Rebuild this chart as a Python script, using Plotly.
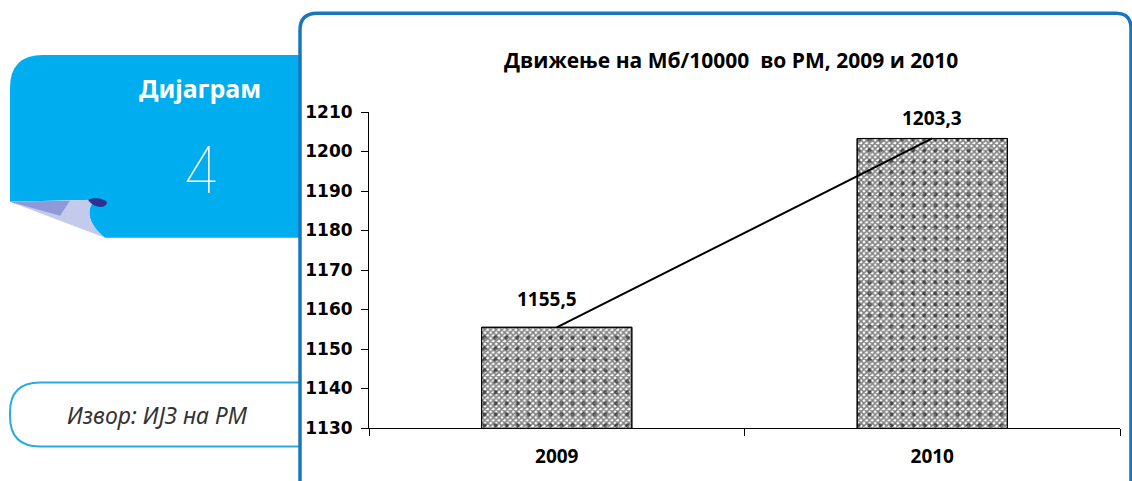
import plotly.graph_objects as go

years = ["2009", "2010"]
values = [1155.5, 1203.3]
value_labels = ["1155,5", "1203,3"]
y_ticks = [1130, 1140, 1150, 1160, 1170, 1180, 1190, 1200, 1210]

title_text = "Движење на Мб/10000  во РМ, 2009 и 2010"
tab_title = "Дијаграм"
tab_number = "4"
source_text = "Извор: ИЈЗ на РМ"

W, H = 1132, 481
L, R, T, B = 369, 1120, 112, 428.5


def px(x, y):
    # pixel -> paper coords
    return (x - L) / (R - L), (B - y) / (B - T)


def path(cmds):
    out = []
    for c in cmds:
        if isinstance(c, str):
            out.append(c)
        else:
            x, y = px(*c)
            out.append(f"{x:.5f},{y:.5f}")
    return " ".join(out)


fig = go.Figure()

# checkerboard base
fig.add_trace(
    go.Bar(
        x=years,
        y=values,
        width=0.4,
        marker={
            "color": "white",
            "line": {"color": "black", "width": 1},
            "pattern": {"shape": "x", "fgcolor": "black", "bgcolor": "white",
                        "size": 4, "solidity": 0.62},
        },
        hoverinfo="skip",
    )
)
# bigger dots on top
fig.add_trace(
    go.Bar(
        x=years,
        y=values,
        width=0.4,
        marker={
            "color": "rgba(0,0,0,0)",
            "line": {"color": "black", "width": 1},
            "pattern": {"shape": ".", "fgcolor": "black", "bgcolor": "rgba(0,0,0,0)",
                        "size": 11, "solidity": 0.12},
        },
        hoverinfo="skip",
    )
)
fig.add_trace(
    go.Scatter(x=years, y=values, mode="lines",
               line={"color": "black", "width": 2}, hoverinfo="skip")
)

for i, (v, lab) in enumerate(zip(values, value_labels)):
    fig.add_annotation(x=i, y=v, text=f"<b>{lab}</b>", showarrow=False,
                       xanchor="center", yanchor="middle",
                       xshift=-10 if i == 0 else 0,
                       yshift=28 if v < 1200 else 20,
                       font={"size": 19, "color": "black"})

shapes = []
# blue tab
shapes.append(dict(
    type="path", xref="paper", yref="paper",
    path=path(["M", (10, 88), "Q", (10, 55), (43, 55), "L", (300, 55), "L", (300, 238),
               "L", (105, 238), "C", (90, 226), (84, 211), (95, 200), "L", (10, 202), "Z"]),
    fillcolor="#00AEEF", line={"width": 0}, layer="below"))
# page curl
shapes.append(dict(
    type="path", xref="paper", yref="paper",
    path=path(["M", (10, 202), "L", (95, 200), "C", (84, 211), (90, 226), (105, 238), "Z"]),
    fillcolor="#C4CAEC", line={"width": 0}, layer="below"))
shapes.append(dict(
    type="path", xref="paper", yref="paper",
    path=path(["M", (10, 202), "L", (70, 201), "L", (60, 216), "Z"]),
    fillcolor="#8F99D8", line={"width": 0}, layer="below"))
shapes.append(dict(
    type="path", xref="paper", yref="paper",
    path=path(["M", (88, 200), "C", (92, 197), (106, 198), (107, 203),
               "C", (106, 209), (94, 209), (88, 200), "Z"]),
    fillcolor="#2E3192", line={"width": 0}, layer="below"))
# chart frame
shapes.append(dict(
    type="path", xref="paper", yref="paper",
    path=path(["M", (300, 484), "L", (300, 30), "Q", (300, 13), (317, 13),
               "L", (1116, 13), "Q", (1131, 13), (1131, 28), "L", (1131, 484)]),
    line={"color": "#1B75BC", "width": 3.5}, layer="above"))
# source box
shapes.append(dict(
    type="path", xref="paper", yref="paper",
    path=path(["M", (300, 383), "L", (40, 383), "Q", (10, 383), (10, 413),
               "L", (10, 417), "Q", (10, 447), (40, 447), "L", (300, 447)]),
    line={"color": "#29ABE2", "width": 2}, layer="below"))

fig.update_layout(shapes=shapes)


def paper_text(x, y, text, font):
    ax, ay = px(x, y)
    fig.add_annotation(x=ax, y=ay, xref="paper", yref="paper", text=text,
                       xanchor="center", yanchor="middle", showarrow=False, font=font)


paper_text(200, 88, f"<b>{tab_title}</b>",
           {"family": "Noto Sans, Open Sans", "size": 25, "color": "white"})
paper_text(201, 170, tab_number,
           {"family": "Inter, Lato", "size": 64, "color": "white", "weight": 100})
paper_text(157, 415, f"<i>{source_text}</i>",
           {"family": "Noto Sans, Open Sans", "size": 23, "color": "#333333"})
paper_text(731, 60, f"<b>{title_text}</b>",
           {"family": "Open Sans", "size": 21, "color": "black"})

fig.update_layout(
    width=W,
    height=H,
    margin={"l": L, "r": W - R, "t": T, "b": H - B, "pad": 0},
    paper_bgcolor="white",
    plot_bgcolor="white",
    showlegend=False,
    font={"family": "Open Sans", "color": "black"},
    barmode="overlay",
    xaxis={
        "type": "category",
        "range": [-0.5, 1.5],
        "showline": True,
        "linecolor": "black",
        "linewidth": 1,
        "ticks": "outside",
        "tickson": "boundaries",
        "ticklen": 7,
        "tickcolor": "black",
        "tickfont": {"size": 19},
        "tickprefix": "<b>",
        "ticksuffix": "</b>",
        "ticklabelstandoff": 11,
        "showgrid": False,
        "zeroline": False,
    },
    yaxis={
        "range": [1130, 1210],
        "tickvals": y_ticks,
        "ticktext": [f"<b>{t}</b>" for t in y_ticks],
        "showline": True,
        "linecolor": "black",
        "linewidth": 1,
        "ticks": "outside",
        "ticklen": 7,
        "tickcolor": "black",
        "tickfont": {"family": "DejaVu Sans", "size": 17},
        "ticklabelstandoff": 5,
        "showgrid": False,
        "zeroline": False,
    },
)

fig.write_html("out.html", config={"displayModeBar": False},
               post_script="document.body.style.margin='0';")
